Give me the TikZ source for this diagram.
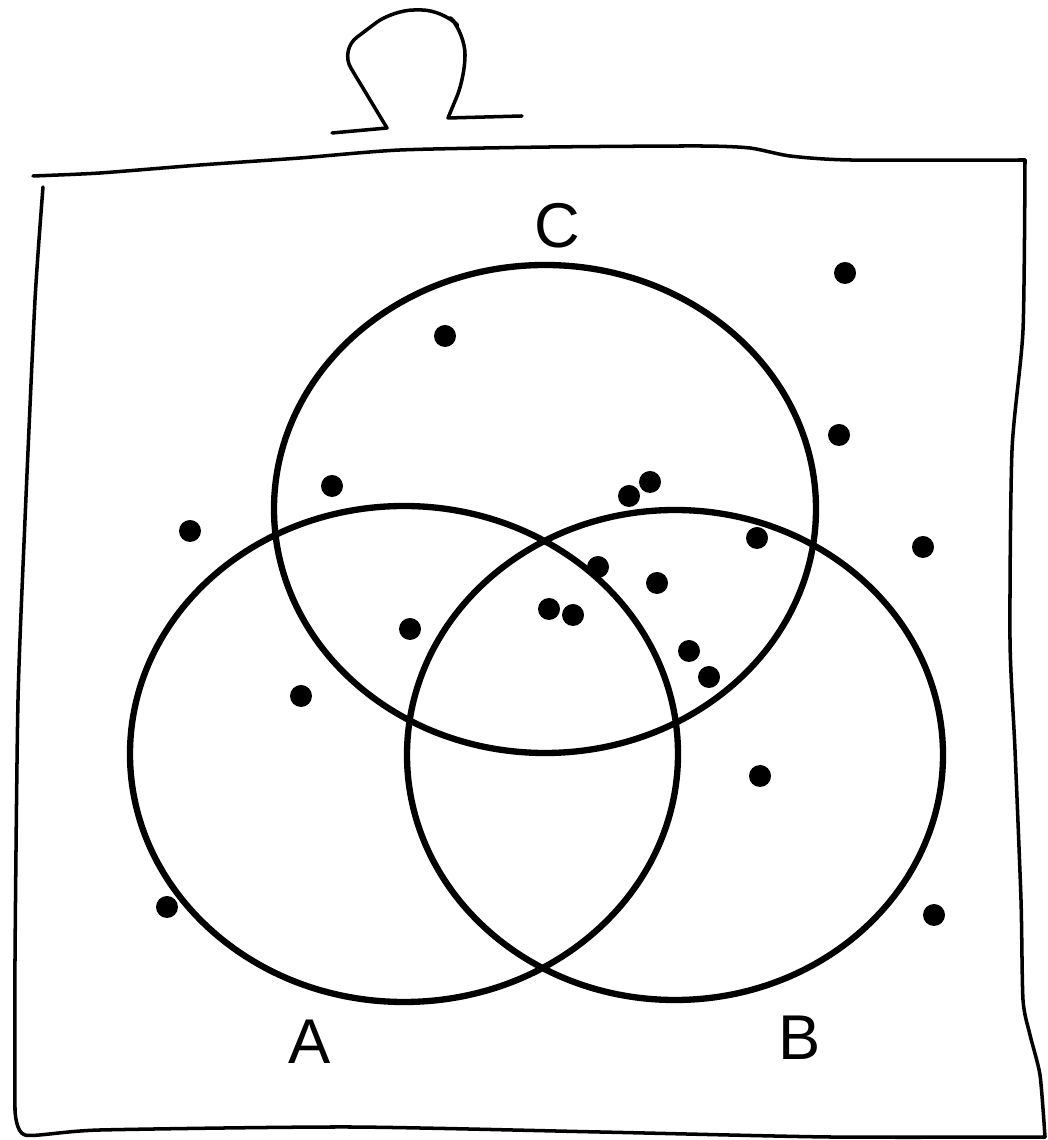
\documentclass[tikz,border=0pt]{standalone}
\usepackage{fontspec}
\newfontfamily\vennfont{Liberation Sans}
\usepackage{tikz}

\begin{document}
\begin{tikzpicture}[line cap=round, line join=round,
	venn/.style={line width=1.8pt},
	frame/.style={line width=1pt},
	setname/.style={font=\vennfont\fontsize{18}{18}\selectfont, inner sep=0pt}]
	\useasboundingbox (0,0) rectangle (10.47,11.40);
	
	% ==================== 全集符号 ====================
	\draw[frame] (3.32,10.07) -- (3.87,10.12)
		[rounded corners=6pt] -- (3.40,10.90) -- (3.93,11.30) -- (4.43,11.30) -- (4.65,11.07) -- (4.65,10.63)
		[sharp corners] -- (4.48,10.22) -- (5.22,10.24);
	
	% ==================== 外框 (手绘) ====================
	\draw[frame] plot[smooth, tension=0.4] coordinates {(0.33,9.64) (1.00,9.67) (2.00,9.75) (3.00,9.82) (4.00,9.90) (5.50,9.93) (7.00,9.94) (7.50,9.92) (7.90,9.84) (8.50,9.80) (10.25,9.80)};
	\draw[frame] plot[smooth, tension=0.4] coordinates {(10.25,9.80) (10.23,8.10) (10.12,6.90) (10.10,5.00) (10.15,3.90) (10.21,2.40) (10.23,1.40) (10.30,1.05) (10.40,0.65) (10.45,0.03)};
	\draw[frame] plot[smooth, tension=0.4] coordinates {(10.45,0.03) (8.30,0.03) (6.00,0.08) (3.50,0.13) (1.00,0.10) (0.25,0.05) (0.15,0.30)};
	\draw[frame] plot[smooth, tension=0.4] coordinates {(0.15,0.30) (0.15,1.80) (0.18,4.40) (0.25,6.20) (0.35,8.40) (0.43,9.53)};
	
	% ==================== 三个集合 ====================
	\draw[venn] (5.45,6.31) ellipse (2.71 and 2.44);
	\draw[venn] (4.04,3.86) ellipse (2.74 and 2.48);
	\draw[venn] (6.75,3.85) ellipse (2.68 and 2.45);
	
	\node[setname] (labC) at (5.57,9.14) {C};
	\node[setname] (labA) at (3.10,0.98) {A};
	\node[setname] (labB) at (8.00,1.02) {B};
	
	% ==================== 样本点 ====================
	% 集合外
	\fill (8.45,8.67) circle (0.11);
	\fill (8.39,7.05) circle (0.11);
	\fill (1.90,6.09) circle (0.11);
	\fill (9.23,5.93) circle (0.11);
	\fill (1.67,2.33) circle (0.11);
	\fill (9.34,2.25) circle (0.11);
	% 集合内
	\fill (4.45,8.04) circle (0.11);
	\fill (3.32,6.54) circle (0.11);
	\fill (6.50,6.58) circle (0.11);
	\fill (6.29,6.44) circle (0.11);
	\fill (7.57,6.02) circle (0.11);
	\fill (5.98,5.73) circle (0.11);
	\fill (6.57,5.57) circle (0.11);
	\fill (5.49,5.31) circle (0.11);
	\fill (5.73,5.25) circle (0.11);
	\fill (4.10,5.11) circle (0.11);
	\fill (6.89,4.89) circle (0.11);
	\fill (7.09,4.63) circle (0.11);
	\fill (3.01,4.44) circle (0.11);
	\fill (7.60,3.64) circle (0.11);
\end{tikzpicture}
\end{document}
